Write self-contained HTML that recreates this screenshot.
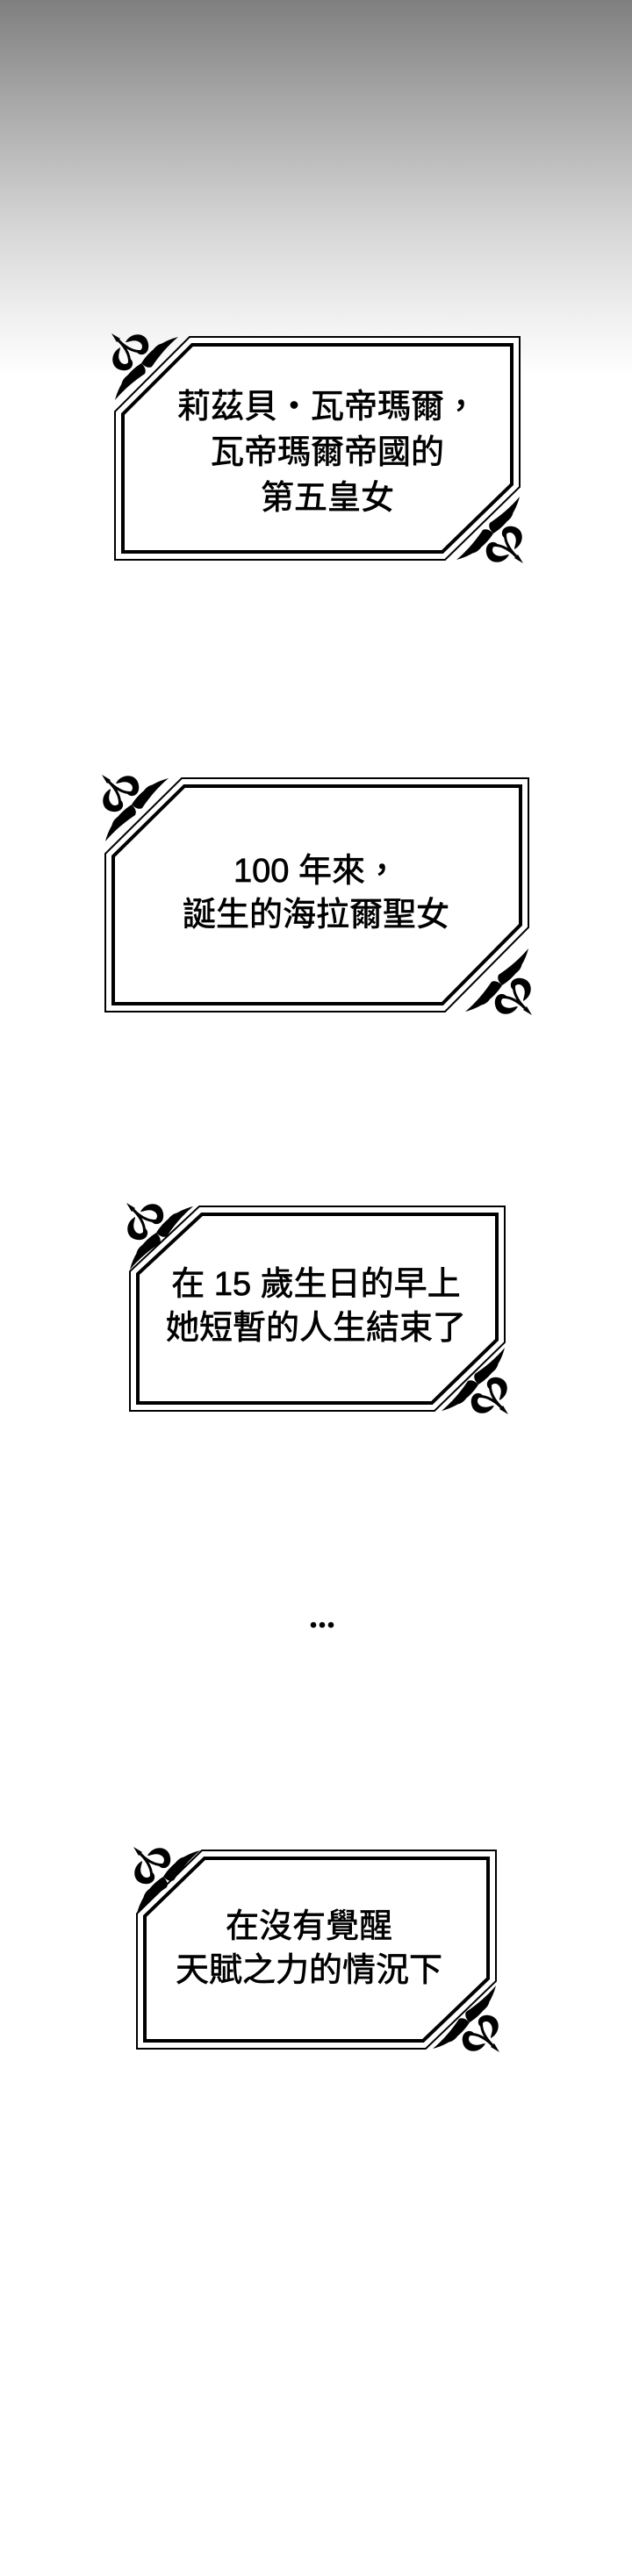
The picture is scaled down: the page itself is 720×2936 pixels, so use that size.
<!DOCTYPE html>
<html><head><meta charset="utf-8"><style>
html,body{margin:0;padding:0;background:#fff}
body{width:720px;height:2936px;position:relative;overflow:hidden}
.grad{position:absolute;left:0;top:0;width:720px;height:430px;background:linear-gradient(#7f7f7f 0px,#a9a9a9 120px,#d6d6d6 260px,#f2f2f2 370px,#fff 430px)}
svg{position:absolute;left:0;top:0}
text{font-family:"Liberation Sans","Noto Sans CJK TC","Noto Sans CJK SC",sans-serif;font-size:38px;fill:#000;stroke:#000;stroke-width:0.7;text-anchor:middle}
</style></head><body>
<div class="grad"></div>
<svg width="720" height="2936" viewBox="0 0 720 2936">
<defs>
<g id="orn">
 <path d="M-4,-4 L6,2 L2,6 Z" fill="#000"/>
 <path d="M4,4 C14,14 18,24 16,32" stroke="#000" stroke-width="3" fill="none"/>
 <path d="M4,4 C14,14 24,18 32,16" stroke="#000" stroke-width="3" fill="none"/>
 <path d="M12,6 C18,-6 36,-6 38,8 C40,20 28,24 24,16 C30,18 34,10 28,6 C22,2 16,6 12,6 Z" fill="#000"/>
 <path d="M6,12 C-6,18 -6,36 8,38 C20,40 24,28 16,24 C18,30 10,34 6,28 C2,22 6,16 6,12 Z" fill="#000"/>
 <path d="M30,30 C40,14 56,4 72,0 C60,10 50,22 42,34 C38,36 34,34 30,30 Z" fill="#000"/>
 <path d="M30,30 C14,40 4,56 0,72 C10,60 22,50 34,42 C36,38 34,34 30,30 Z" fill="#000"/>
 <path d="M44,14 C50,6 58,6 62,10 C56,10 50,14 46,20 Z" fill="#000"/>
 <path d="M14,44 C6,50 6,58 10,62 C10,56 14,50 20,46 Z" fill="#000"/>
</g>
</defs>

<polygon points="216,384 592,384 592,555 507,638 131,638 131,469" fill="#fff" stroke="#000" stroke-width="2"/>
<polygon points="219,393 583,393 583,552 504,629 140,629 140,472" fill="none" stroke="#000" stroke-width="4"/>
<use href="#orn" transform="translate(131,384)"/>
<use href="#orn" transform="translate(592,638) rotate(180)"/>
<text x="373" y="476">莉茲貝・瓦帝瑪爾，</text>
<text x="373" y="528">瓦帝瑪爾帝國的</text>
<text x="373" y="580">第五皇女</text>

<polygon points="207,887 602,887 602,1057 507,1153 120,1153 120,973" fill="#fff" stroke="#000" stroke-width="2"/>
<polygon points="210,896 593,896 593,1054 504,1144 129,1144 129,976" fill="none" stroke="#000" stroke-width="4"/>
<use href="#orn" transform="translate(120,887)"/>
<use href="#orn" transform="translate(602,1153) rotate(180)"/>
<text x="360" y="1005">100 年來，</text>
<text x="360" y="1055">誕生的海拉爾聖女</text>

<polygon points="227,1375 575,1375 575,1530 495,1608 148,1608 148,1449" fill="#fff" stroke="#000" stroke-width="2"/>
<polygon points="230,1384 566,1384 566,1527 492,1599 157,1599 157,1452" fill="none" stroke="#000" stroke-width="4"/>
<use href="#orn" transform="translate(148,1375)"/>
<use href="#orn" transform="translate(575,1608) rotate(180)"/>
<text x="360" y="1476">在 15 歲生日的早上</text>
<text x="360" y="1526">她短暫的人生結束了</text>

<circle cx="357" cy="1852" r="3.3" fill="#000"/>
<circle cx="367" cy="1852" r="3.3" fill="#000"/>
<circle cx="377" cy="1852" r="3.3" fill="#000"/>

<polygon points="230,2109 565,2109 565,2258 485,2335 156,2335 156,2181" fill="#fff" stroke="#000" stroke-width="2"/>
<polygon points="233,2118 556,2118 556,2255 482,2326 165,2326 165,2184" fill="none" stroke="#000" stroke-width="4"/>
<use href="#orn" transform="translate(156,2109)"/>
<use href="#orn" transform="translate(565,2335) rotate(180)"/>
<text x="352" y="2208">在沒有覺醒</text>
<text x="352" y="2258">天賦之力的情況下</text>
</svg>
</body></html>
